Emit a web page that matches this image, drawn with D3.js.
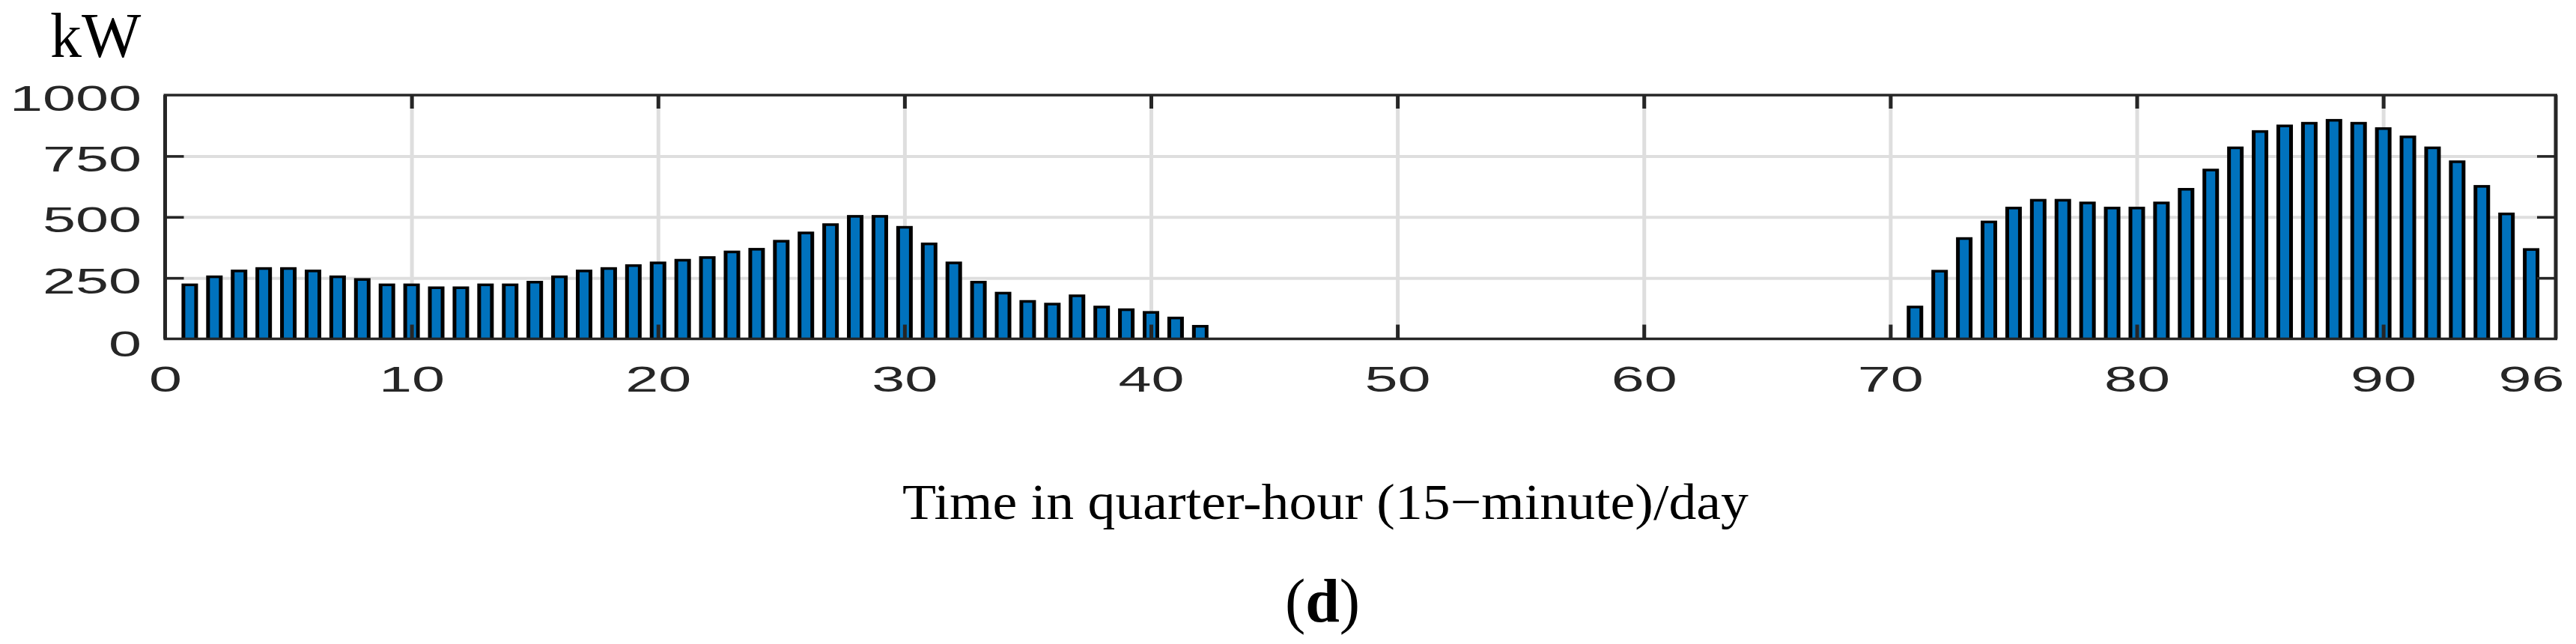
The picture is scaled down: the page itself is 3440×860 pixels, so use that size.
<!DOCTYPE html>
<html>
<head>
<meta charset="utf-8">
<script src="https://cdn.jsdelivr.net/npm/d3@7"></script>
<style>
  html, body { margin: 0; padding: 0; background: #fff; }
  svg { display: block; }
</style>
</head>
<body>
<svg id="chart" width="3440" height="860"></svg>
<script>
// ---- data ----
const categories = [
  1,2,3,4,5,6,7,8,9,10,11,12,13,14,15,16,17,18,19,20,21,22,23,24,
  25,26,27,28,29,30,31,32,33,34,35,36,37,38,39,40,41,42,43,44,45,46,47,48,
  49,50,51,52,53,54,55,56,57,58,59,60,61,62,63,64,65,66,67,68,69,70,71,72,
  73,74,75,76,77,78,79,80,81,82,83,84,85,86,87,88,89,90,91,92,93,94,95,96
];
const powerKW = [
  227,260,284,294,294,284,260,249,227,227,215,215,227,227,238,
  260,284,294,306,317,328,339,362,373,406,440,474,508,508,463,395,
  317,238,193,159,148,182,136,125,114,91,57,
  0,0,0,0,0,0,0,0,0,0,0,0,0,0,0,0,0,0,0,0,0,0,0,0,0,0,0,0,
  136,283,417,485,542,574,574,563,542,542,563,619,698,789,856,
  879,890,902,890,868,834,789,732,631,518,372
];
const xTickValues = [0,10,20,30,40,50,60,70,80,90];
const xTickLabels = [0,10,20,30,40,50,60,70,80,90,96];
const yTickValues = [0,250,500,750,1000];
const yUnit = "kW";
const xTitle = "Time in quarter-hour (15\u2212minute)/day";
const panelLabel = "d";

// ---- layout ----
const svg = d3.select("#chart");
const L = 220.5, R = 3413, T = 127, B = 452.5;
const x = d3.scaleLinear().domain([0, 97]).range([L, R]);
const y = d3.scaleLinear().domain([0, 1000]).range([B, T]);
const axisColor = "#262626";
const gridColor = "#dedede";
const barFill = "#0072BD";
const charW = 44;

// gridlines
const gx = svg.append("g").attr("transform", `translate(0,${B})`)
  .call(d3.axisBottom(x).tickValues(xTickValues.filter(v => v > 0)).tickSize(-(B - T)).tickFormat(""));
gx.select(".domain").remove();
gx.selectAll("line").attr("stroke", gridColor).attr("stroke-width", 5);

const gy = svg.append("g").attr("transform", `translate(${L},0)`)
  .call(d3.axisLeft(y).tickValues(yTickValues.filter(v => v > 0 && v < 1000)).tickSize(-(R - L)).tickFormat(""));
gy.select(".domain").remove();
gy.selectAll("line").attr("stroke", gridColor).attr("stroke-width", 4);

// bars
const data = categories.map((c, i) => ({c, v: powerKW[i]})).filter(d => d.v > 0);
const bw = 22, side = 5, topE = 3.5;
const bars = svg.append("g");
bars.selectAll("rect.edge").data(data).join("rect")
  .attr("class", "edge")
  .attr("x", d => x(d.c) - bw / 2)
  .attr("width", bw)
  .attr("y", d => y(d.v))
  .attr("height", d => y(0) - y(d.v))
  .attr("fill", "#000");
bars.selectAll("rect.fill").data(data).join("rect")
  .attr("class", "fill")
  .attr("x", d => x(d.c) - bw / 2 + side)
  .attr("width", bw - 2 * side)
  .attr("y", d => y(d.v) + topE)
  .attr("height", d => Math.max(0, y(0) - y(d.v) - topE))
  .attr("fill", barFill);

// inward tick marks
function styleTicks(g, w) {
  g.select(".domain").remove();
  g.selectAll("line").attr("stroke", axisColor).attr("stroke-width", w);
}
svg.append("g").attr("transform", `translate(0,${B})`)
  .call(d3.axisBottom(x).tickValues(xTickValues.filter(v => v > 0)).tickSize(-19).tickFormat(""))
  .call(g => styleTicks(g, 5));
svg.append("g").attr("transform", `translate(0,${T})`)
  .call(d3.axisTop(x).tickValues(xTickValues.filter(v => v > 0)).tickSize(-18).tickFormat(""))
  .call(g => styleTicks(g, 5));
svg.append("g").attr("transform", `translate(${L},0)`)
  .call(d3.axisLeft(y).tickValues(yTickValues.filter(v => v > 0 && v < 1000)).tickSize(-25).tickFormat(""))
  .call(g => styleTicks(g, 3.5));
svg.append("g").attr("transform", `translate(${R},0)`)
  .call(d3.axisRight(y).tickValues(yTickValues.filter(v => v > 0 && v < 1000)).tickSize(-25).tickFormat(""))
  .call(g => styleTicks(g, 3.5));

// box
svg.append("line").attr("x1", L - 2).attr("x2", R + 2).attr("y1", T).attr("y2", T).attr("stroke", axisColor).attr("stroke-width", 3.5);
svg.append("line").attr("x1", L - 2).attr("x2", R + 2).attr("y1", B).attr("y2", B).attr("stroke", axisColor).attr("stroke-width", 3.5);
svg.append("line").attr("x1", L).attr("x2", L).attr("y1", T).attr("y2", B).attr("stroke", axisColor).attr("stroke-width", 5);
svg.append("line").attr("x1", R).attr("x2", R).attr("y1", T).attr("y2", B).attr("stroke", axisColor).attr("stroke-width", 5);

// tick labels
const xl = svg.append("g").attr("transform", `translate(0,${B})`)
  .call(d3.axisBottom(x).tickValues(xTickLabels).tickSize(0).tickFormat(d => String(d)));
xl.select(".domain").remove();
xl.selectAll("text")
  .attr("y", 70.5).attr("dy", null)
  .attr("font-family", "'Liberation Sans', Arial, sans-serif")
  .attr("font-size", 48)
  .attr("fill", axisColor)
  .attr("textLength", d => String(d).length * charW)
  .attr("lengthAdjust", "spacingAndGlyphs");

const yl = svg.append("g").attr("transform", `translate(${L},0)`)
  .call(d3.axisLeft(y).tickValues(yTickValues).tickSize(0).tickFormat(d => String(d)));
yl.select(".domain").remove();
yl.selectAll("text")
  .attr("x", -(L - 189)).attr("dy", null).attr("y", d => d === 0 ? 23 : 20)
  .attr("font-family", "'Liberation Sans', Arial, sans-serif")
  .attr("font-size", 48)
  .attr("fill", axisColor)
  .attr("textLength", d => String(d).length * charW)
  .attr("lengthAdjust", "spacingAndGlyphs");

// unit label
svg.append("text").attr("x", 67).attr("y", 76)
  .attr("font-family", "'Liberation Serif', 'Times New Roman', serif")
  .attr("font-size", 84).attr("fill", "#000")
  .text(yUnit);

// x title
svg.append("text").attr("x", 1205).attr("y", 693)
  .attr("font-family", "'Liberation Serif', 'Times New Roman', serif")
  .attr("font-size", 68).attr("fill", "#000")
  .attr("textLength", 1130).attr("lengthAdjust", "spacingAndGlyphs")
  .text(xTitle);

// panel label
const pl = svg.append("text").attr("x", 1766).attr("y", 830)
  .attr("text-anchor", "middle")
  .attr("font-family", "'Liberation Serif', 'Times New Roman', serif")
  .attr("font-size", 82).attr("fill", "#000");
pl.append("tspan").text("(");
pl.append("tspan").attr("font-weight", "bold").text(panelLabel);
pl.append("tspan").text(")");
</script>
</body>
</html>
